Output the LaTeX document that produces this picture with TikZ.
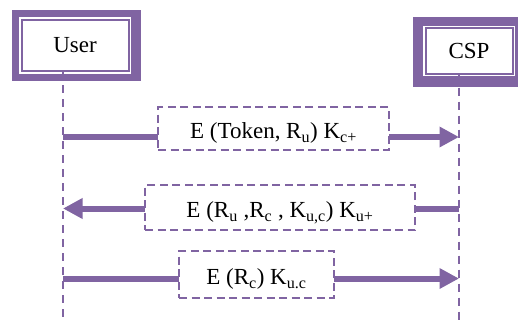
\documentclass[tikz,border=0pt]{standalone}
\usepackage{fontspec}
\setmainfont{Liberation Serif}
\usetikzlibrary{arrows.meta}

\definecolor{seqpurple}{HTML}{8064A2}

\begin{document}
\begin{tikzpicture}[
    x=1pt,y=1pt,
    font=\fontsize{23}{27}\selectfont,
    frame/.style={fill=seqpurple,inner sep=0pt},
    actor/.style={draw=seqpurple,line width=2pt,fill=white,preaction={draw=white,line width=5pt},inner sep=0pt},
    lifeline/.style={draw=seqpurple,line width=2.6pt,dash pattern=on 8pt off 6pt},
    msg/.style={draw=seqpurple,line width=6pt,-{Triangle[length=19.5pt,width=19.5pt]}},
    msgbox/.style={draw=seqpurple,line width=2.4pt,dash pattern=on 8pt off 4.5pt,fill=white,inner sep=0pt,text height=20pt,text depth=0pt}
  ]
  \useasboundingbox (0,0) rectangle (522,322);

  % actors with double frame
  \node[frame,minimum width=129pt,minimum height=71pt] (userframe) at (76.5,276.5) {};
  \node[actor,minimum width=107pt,minimum height=51.5pt] (user) at (75.1,276.5) {User\hspace{12pt}};
  \node[frame,minimum width=105.5pt,minimum height=70.5pt] (cspframe) at (465.7,270) {};
  \node[actor,minimum width=87pt,minimum height=45.5pt] (csp) at (469,271) {CSP};

  % lifelines
  \coordinate (usertop) at (63,250.8);
  \coordinate (userend) at (63,2);
  \coordinate (csptop) at (459,248.3);
  \coordinate (cspend) at (459,2);
  \draw[lifeline] (usertop) -- (userend);
  \draw[lifeline] (csptop) -- (cspend);

  % message end points
  \coordinate (u1) at (63,185);
  \coordinate (c1) at (459,185);
  \coordinate (u2) at (63,113.5);
  \coordinate (c2) at (459,113.5);
  \coordinate (u3) at (63,43.5);
  \coordinate (c3) at (459,43.5);

  \draw[msg] (u1) -- (c1);
  \draw[msg] (c2) -- (u2);
  \draw[msg] (u3) -- (c3);

  \node[msgbox,minimum width=231pt,minimum height=43pt] (m1) at (273.5,193.5)
    {E (Token, R\textsubscript{u}) K\textsubscript{c+}};
  \node[msgbox,minimum width=270pt,minimum height=45pt] (m2) at (280,114.5)
    {E (R\textsubscript{u} ,R\textsubscript{c} , K\textsubscript{u,c}) K\textsubscript{u+}};
  \node[msgbox,minimum width=155pt,minimum height=47pt] (m3) at (256.5,47.5)
    {E (R\textsubscript{c}) K\textsubscript{u.c}};
\end{tikzpicture}
\end{document}
